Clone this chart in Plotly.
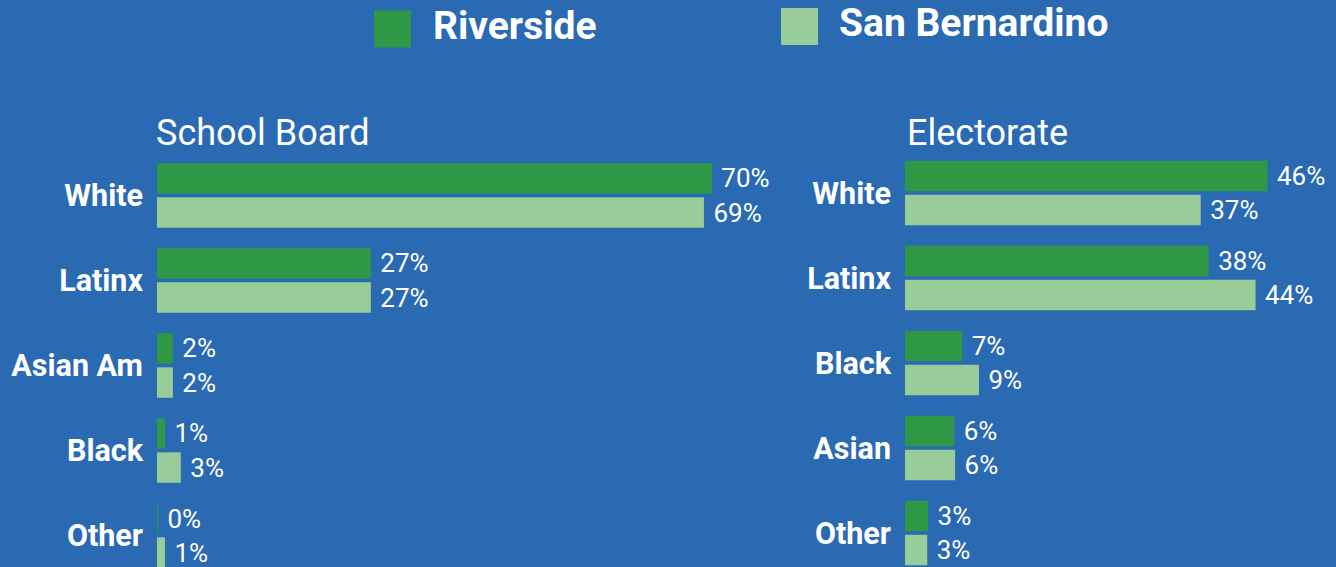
import plotly.graph_objects as go

# ---------------- data ----------------
series_names = ["Riverside", "San Bernardino"]
panel_titles = ["School Board", "Electorate"]

board_categories = ["White", "Latinx", "Asian Am", "Black", "Other"]
board_riverside = [69.8, 26.9, 2.0, 1.0, 0.1]
board_sanbern = [68.8, 26.9, 2.0, 3.0, 1.0]

elect_categories = ["White", "Latinx", "Black", "Asian", "Other"]
elect_riverside = [45.6, 38.2, 7.2, 6.2, 2.9]
elect_sanbern = [37.2, 44.1, 9.3, 6.3, 2.8]

# ---------------- style ----------------
W, H = 1336, 567
BG = "#2a6ab3"
COLORS = ["#2e9847", "#98cc98"]
FONT = "Roboto"
PX_PER_UNIT = 7.95

fig = go.Figure()

panels = [
    (board_categories, [board_riverside, board_sanbern], "x", "y"),
    (elect_categories, [elect_riverside, elect_sanbern], "x2", "y2"),
]
for cats, series, xa, ya in panels:
    for name, vals, col in zip(series_names, series, COLORS):
        fig.add_trace(go.Bar(
            y=cats, x=vals, name=name, orientation="h",
            marker=dict(color=col, line=dict(width=0)),
            texttemplate="\u00a0%{x:.0f}%", textposition="outside",
            textfont=dict(family=FONT, size=26, color="white"),
            constraintext="none", cliponaxis=False,
            xaxis=xa, yaxis=ya, showlegend=False, hoverinfo="skip",
        ))

left_x0 = 157
left_range = 80
right_x0 = 905
right_range = (W - right_x0) / PX_PER_UNIT

axis_common = dict(showgrid=False, zeroline=False, showline=False,
                   showticklabels=False, ticks="", fixedrange=True)
ycommon = dict(showgrid=False, zeroline=False, showline=False, ticks="",
               ticklabelstandoff=13,
               tickfont=dict(family=FONT, size=30.5, color="white", weight="bold"),
               fixedrange=True)

fig.update_layout(
    width=W, height=H,
    margin=dict(l=0, r=0, t=0, b=0),
    paper_bgcolor=BG, plot_bgcolor=BG,
    barmode="group", bargap=0.198, bargroupgap=0.106,
    showlegend=False,
    xaxis=dict(domain=[left_x0 / W, (left_x0 + left_range * PX_PER_UNIT) / W],
               range=[0, left_range], anchor="y", **axis_common),
    xaxis2=dict(domain=[right_x0 / W, 1], range=[0, right_range], anchor="y2",
                **axis_common),
    yaxis=dict(domain=[0, 1 - 153 / H], range=[4.37, -0.5], anchor="x",
               categoryorder="array", categoryarray=board_categories, **ycommon),
    yaxis2=dict(domain=[0, 1 - 150.5 / H], range=[4.40, -0.5], anchor="x2",
                categoryorder="array", categoryarray=elect_categories, **ycommon),
)

# panel titles
for title, x0, yc in zip(panel_titles, [154, 905], [133, 133]):
    fig.add_annotation(text=title, xref="paper", yref="paper",
                       x=x0 / W, y=1 - yc / H, xanchor="left", yanchor="middle",
                       showarrow=False,
                       font=dict(family=FONT, size=36, color="white"))

# custom legend (large square swatches)
legend_items = [
    (series_names[0], COLORS[0], 374, 29, 431, 26),
    (series_names[1], COLORS[1], 781, 26.5, 837, 23),
]
for name, col, sx, sy, tx, ty in legend_items:
    fig.add_shape(type="rect", xref="paper", yref="paper",
                  x0=sx / W, x1=(sx + 37) / W,
                  y0=1 - (sy + 18.5) / H, y1=1 - (sy - 18.5) / H,
                  fillcolor=col, line=dict(width=0))
    fig.add_annotation(text=name, xref="paper", yref="paper",
                       x=tx / W, y=1 - ty / H, xanchor="left", yanchor="middle",
                       showarrow=False,
                       font=dict(family=FONT, size=39, color="white", weight="bold"))

fig.write_html("out.html")
